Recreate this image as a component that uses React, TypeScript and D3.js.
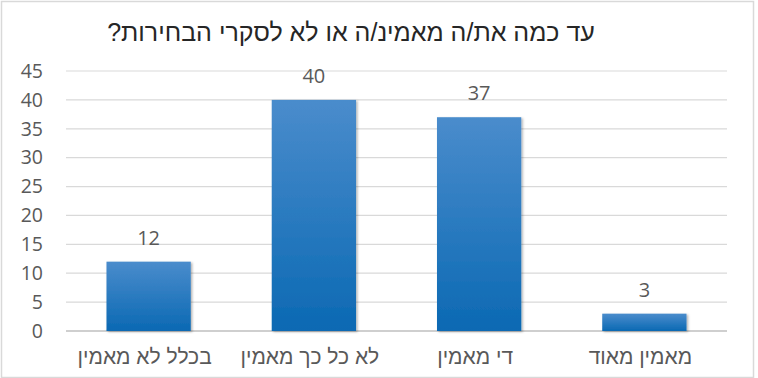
import React from "react";
import * as d3 from "d3";

const categories = ["בכלל לא מאמין", "לא כל כך מאמין", "די מאמין", "מאמין מאוד"];
const values = [12, 40, 37, 3];
const yTicks = [0, 5, 10, 15, 20, 25, 30, 35, 40, 45];
const title = "עד כמה את/ה מאמינ/ה או לא לסקרי הבחירות?";

const W = 758;
const H = 378;
const plotLeft = 66;
const plotRight = 727;
const plotTop = 71;
const plotBottom = 331;

export default function App() {
  const x = d3.scaleBand<string>().domain(categories).range([plotLeft, plotRight]).paddingInner(0.49).paddingOuter(0.245);
  const y = d3.scaleLinear().domain([0, 45]).range([plotBottom, plotTop]);
  const font = "'Liberation Sans', Arial, sans-serif";
  const numFont = "'Open Sans', 'Liberation Sans', sans-serif";
  const textColor = "#595959";
  return (
    <div style={{ position: "fixed", left: 0, top: 0, width: W, height: H, background: "#fff" }}>
      <svg width={W} height={H} style={{ display: "block" }}>
        <defs>
          <linearGradient id="barGrad" x1="0" y1="0" x2="0" y2="1">
            <stop offset="0%" stopColor="#4a8ccc" />
            <stop offset="100%" stopColor="#0b69b3" />
          </linearGradient>
          <filter id="shadow" x="-10%" y="-10%" width="130%" height="130%">
            <feDropShadow dx="1.5" dy="1" stdDeviation="1.2" floodColor="#000" floodOpacity="0.3" />
          </filter>
        </defs>
        <rect x={1.5} y={1.5} width={W - 6} height={H - 2} fill="#fff" stroke="#d9d9d9" strokeWidth={1.5} />
        <text x={351} y={41} textAnchor="middle" fontFamily={font} fontSize={25} fill="#262626" direction="rtl">
          {title}
        </text>
        {yTicks.map((t) => (
          <g key={t}>
            <line x1={plotLeft} x2={plotRight} y1={y(t)} y2={y(t)} stroke={t === 0 ? "#bfbfbf" : "#d9d9d9"} strokeWidth={t === 0 ? 1.5 : 1.2} />
            <text x={43} y={y(t)} dy="0.35em" textAnchor="end" fontFamily={numFont} fontSize={19.5} fill={textColor}>
              {t}
            </text>
          </g>
        ))}
        {categories.map((c, i) => (
          <g key={c}>
            <rect
              x={x(c)!}
              y={y(values[i])}
              width={x.bandwidth()}
              height={y(0) - y(values[i])}
              fill="url(#barGrad)"
              filter="url(#shadow)"
            />
            <text x={x(c)! + x.bandwidth() / 2} y={y(values[i]) - 17} textAnchor="middle" fontFamily={numFont} fontSize={20} fill={textColor}>
              {values[i]}
            </text>
            <text x={x(c)! + x.bandwidth() / 2 - 4} y={357} dy="0.35em" textAnchor="middle" fontFamily={font} fontSize={21} fill={textColor} direction="rtl">
              {c}
            </text>
          </g>
        ))}
      </svg>
    </div>
  );
}
